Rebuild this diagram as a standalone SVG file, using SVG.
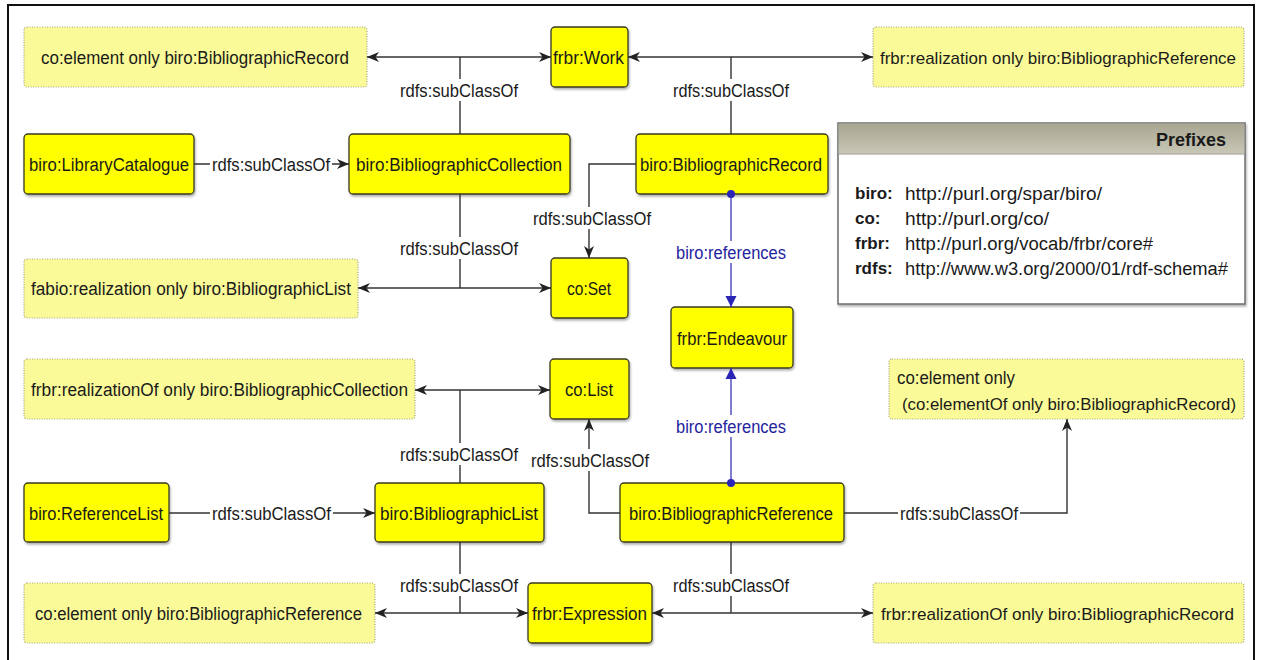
<svg xmlns="http://www.w3.org/2000/svg" width="1261" height="660" viewBox="0 0 1261 660">
<defs>
<style>
text{font-family:"Liberation Sans",Arial,sans-serif;font-size:18px;fill:#1a1a1a;}
.n rect{fill:#ffff00;stroke:#3a3a20;stroke-width:1.3;filter:url(#sh);}
.d rect{fill:#fafa98;stroke:#a4a47c;stroke-width:1.2;stroke-dasharray:1 1.5;}
.e{fill:none;stroke:#333;stroke-width:1.4;}
.bl{fill:none;stroke:#2b25b5;stroke-width:1.2;}
.lb{fill:#fff;stroke:none;}
.bt{fill:#2424a0;}
.pk{font-weight:bold;font-size:17px;}
.sm{font-size:17px;}
</style>
<filter id="sh" x="-10%" y="-10%" width="130%" height="140%">
<feDropShadow dx="1" dy="2" stdDeviation="1.2" flood-color="#000" flood-opacity="0.3"/>
</filter>
<linearGradient id="hg" x1="0" y1="0" x2="0" y2="1">
<stop offset="0" stop-color="#a9a792"/>
<stop offset="1" stop-color="#c8c6b5"/>
</linearGradient>
<marker id="ar" viewBox="0 0 12 10" refX="12" refY="5" markerWidth="12" markerHeight="10" markerUnits="userSpaceOnUse" orient="auto-start-reverse">
<path d="M0,0 L12,5 L0,10 L3.5,5 z" fill="#222"/>
</marker>
<marker id="ab" viewBox="0 0 11 13" refX="11" refY="6.5" markerWidth="11" markerHeight="13" markerUnits="userSpaceOnUse" orient="auto">
<path d="M0,1 L11,6.5 L0,12 z" fill="#2b25b5"/>
</marker>
</defs>
<rect x="8" y="5" width="1246" height="680" fill="#fff" stroke="#111" stroke-width="2"/>

<g id="r-element-record" class="d"><rect x="24" y="27" width="343" height="60" rx="3"/>
<text x="41" y="64" textLength="308" lengthAdjust="spacingAndGlyphs">co:element only biro:BibliographicRecord</text></g>
<g id="n-work" class="n"><rect x="551" y="27" width="77" height="60" rx="4"/>
<text x="553" y="64" textLength="71" lengthAdjust="spacingAndGlyphs">frbr:Work</text></g>
<g id="r-realization-reference" class="d"><rect x="873" y="27" width="371" height="60" rx="3"/>
<text class="sm" x="880" y="64" textLength="356" lengthAdjust="spacingAndGlyphs">frbr:realization only biro:BibliographicReference</text></g>
<g id="n-librarycatalogue" class="n"><rect x="24" y="134" width="170" height="60" rx="4"/>
<text x="29" y="171" textLength="160" lengthAdjust="spacingAndGlyphs">biro:LibraryCatalogue</text></g>
<g id="n-bibcollection" class="n"><rect x="349" y="134" width="221" height="60" rx="4"/>
<text x="356" y="171" textLength="206" lengthAdjust="spacingAndGlyphs">biro:BibliographicCollection</text></g>
<g id="n-bibrecord" class="n"><rect x="636" y="134" width="192" height="60" rx="4"/>
<text x="640" y="171" textLength="182" lengthAdjust="spacingAndGlyphs">biro:BibliographicRecord</text></g>

<g id="prefixes">
<rect x="838" y="123" width="407" height="181" fill="#fff" stroke="#6e6e6e" stroke-width="1.5" filter="url(#sh)"/>
<rect x="838.75" y="123.75" width="405.5" height="30" fill="url(#hg)"/>
<line x1="838" y1="154" x2="1245" y2="154" stroke="#9a9888" stroke-width="1"/>
<text class="pk" x="1226" y="146" text-anchor="end" style="font-size:18px">Prefixes</text>
<text class="pk" x="855" y="199">biro:</text>
<text x="905" y="200" textLength="197" lengthAdjust="spacingAndGlyphs">http://purl.org/spar/biro/</text>
<text class="pk" x="855" y="224">co:</text>
<text x="905" y="225" textLength="144" lengthAdjust="spacingAndGlyphs">http://purl.org/co/</text>
<text class="pk" x="855" y="249">frbr:</text>
<text x="905" y="250" textLength="248" lengthAdjust="spacingAndGlyphs">http://purl.org/vocab/frbr/core#</text>
<text class="pk" x="855" y="274">rdfs:</text>
<text x="905" y="275" textLength="323" lengthAdjust="spacingAndGlyphs">http://www.w3.org/2000/01/rdf-schema#</text>
</g>

<g id="r-realization-list" class="d"><rect x="24" y="259" width="334" height="59" rx="3"/>
<text x="31" y="295" textLength="320" lengthAdjust="spacingAndGlyphs">fabio:realization only biro:BibliographicList</text></g>
<g id="n-set" class="n"><rect x="551" y="258" width="77" height="60" rx="4"/>
<text x="567" y="295" textLength="44" lengthAdjust="spacingAndGlyphs">co:Set</text></g>
<g id="n-endeavour" class="n"><rect x="671" y="307" width="122" height="61" rx="4"/>
<text x="677" y="345" textLength="110" lengthAdjust="spacingAndGlyphs">frbr:Endeavour</text></g>
<g id="r-realizationof-collection" class="d"><rect x="24" y="359" width="391" height="60" rx="3"/>
<text x="31" y="396" textLength="377" lengthAdjust="spacingAndGlyphs">frbr:realizationOf only biro:BibliographicCollection</text></g>
<g id="n-list" class="n"><rect x="550" y="359" width="79" height="60" rx="4"/>
<text x="565" y="396" textLength="48" lengthAdjust="spacingAndGlyphs">co:List</text></g>
<g id="r-element-elementof" class="d"><rect x="889" y="359" width="355" height="60" rx="3"/>
<text x="897" y="384" textLength="118" lengthAdjust="spacingAndGlyphs">co:element only</text>
<text class="sm" x="902" y="410" textLength="334" lengthAdjust="spacingAndGlyphs">(co:elementOf only biro:BibliographicRecord)</text></g>
<g id="n-referencelist" class="n"><rect x="24" y="483" width="145" height="59" rx="4"/>
<text x="29" y="520" textLength="134" lengthAdjust="spacingAndGlyphs">biro:ReferenceList</text></g>
<g id="n-biblist" class="n"><rect x="375" y="483" width="169" height="59" rx="4"/>
<text x="380" y="520" textLength="158" lengthAdjust="spacingAndGlyphs">biro:BibliographicList</text></g>
<g id="n-bibreference" class="n"><rect x="620" y="483" width="224" height="59" rx="4"/>
<text x="629" y="520" textLength="204" lengthAdjust="spacingAndGlyphs">biro:BibliographicReference</text></g>
<g id="r-element-reference" class="d"><rect x="24" y="583" width="351" height="60" rx="3"/>
<text x="35" y="620" textLength="327" lengthAdjust="spacingAndGlyphs">co:element only biro:BibliographicReference</text></g>
<g id="n-expression" class="n"><rect x="528" y="583" width="124" height="60" rx="4"/>
<text x="532" y="620" textLength="115" lengthAdjust="spacingAndGlyphs">frbr:Expression</text></g>
<g id="r-realizationof-record" class="d"><rect x="873" y="583" width="371" height="60" rx="3"/>
<text class="sm" x="881" y="620" textLength="353" lengthAdjust="spacingAndGlyphs">frbr:realizationOf only biro:BibliographicRecord</text></g>

<g id="connectors">
<g id="c-work-left">
<path class="e" d="M367,57 H551" marker-start="url(#ar)" marker-end="url(#ar)"/>
<path class="e" d="M460,57 V134"/>
<rect class="lb" x="398" y="79" width="122" height="22"/>
<text x="400" y="97" textLength="118" lengthAdjust="spacingAndGlyphs">rdfs:subClassOf</text>
</g>
<g id="c-work-right">
<path class="e" d="M628,57 H873" marker-start="url(#ar)" marker-end="url(#ar)"/>
<path class="e" d="M731,57 V134"/>
<rect class="lb" x="671" y="79" width="120" height="22"/>
<text x="673" y="97" textLength="116" lengthAdjust="spacingAndGlyphs">rdfs:subClassOf</text>
</g>
<g id="c-libcat">
<path class="e" d="M194,164 H349" marker-end="url(#ar)"/>
<rect class="lb" x="210" y="153" width="122" height="22"/>
<text x="212" y="171" textLength="118" lengthAdjust="spacingAndGlyphs">rdfs:subClassOf</text>
</g>
<g id="c-set-left">
<path class="e" d="M358,288 H551" marker-start="url(#ar)" marker-end="url(#ar)"/>
<path class="e" d="M460,194 V288"/>
<rect class="lb" x="398" y="237" width="122" height="22"/>
<text x="400" y="255" textLength="118" lengthAdjust="spacingAndGlyphs">rdfs:subClassOf</text>
</g>
<g id="c-record-set">
<path class="e" d="M636,164 H589 V258" marker-end="url(#ar)"/>
<rect class="lb" x="531" y="207" width="122" height="22"/>
<text x="533" y="225" textLength="118" lengthAdjust="spacingAndGlyphs">rdfs:subClassOf</text>
</g>
<g id="c-record-endeavour">
<path class="bl" d="M731,194 V307" marker-end="url(#ab)"/>
<circle cx="731" cy="194" r="4" fill="#2b25b5"/>
<rect class="lb" x="674" y="241" width="114" height="22"/>
<text class="bt" x="676" y="259" textLength="110" lengthAdjust="spacingAndGlyphs">biro:references</text>
</g>
<g id="c-list-left">
<path class="e" d="M415,390 H550" marker-start="url(#ar)" marker-end="url(#ar)"/>
<path class="e" d="M460,390 V483"/>
<rect class="lb" x="398" y="443" width="122" height="22"/>
<text x="400" y="461" textLength="118" lengthAdjust="spacingAndGlyphs">rdfs:subClassOf</text>
</g>
<g id="c-reference-list">
<path class="e" d="M620,513 H589 V419" marker-end="url(#ar)"/>
<rect class="lb" x="529" y="449" width="122" height="22"/>
<text x="531" y="467" textLength="118" lengthAdjust="spacingAndGlyphs">rdfs:subClassOf</text>
</g>
<g id="c-reference-endeavour">
<path class="bl" d="M731,483 V368" marker-end="url(#ab)"/>
<circle cx="731" cy="483" r="4" fill="#2b25b5"/>
<rect class="lb" x="674" y="415" width="114" height="22"/>
<text class="bt" x="676" y="433" textLength="110" lengthAdjust="spacingAndGlyphs">biro:references</text>
</g>
<g id="c-reflist">
<path class="e" d="M169,513 H375" marker-end="url(#ar)"/>
<rect class="lb" x="210" y="502" width="123" height="22"/>
<text x="212" y="520" textLength="119" lengthAdjust="spacingAndGlyphs">rdfs:subClassOf</text>
</g>
<g id="c-reference-element">
<path class="e" d="M844,513 H1067 V419" marker-end="url(#ar)"/>
<rect class="lb" x="898" y="502" width="122" height="22"/>
<text x="900" y="520" textLength="118" lengthAdjust="spacingAndGlyphs">rdfs:subClassOf</text>
</g>
<g id="c-expression-left">
<path class="e" d="M375,613 H528" marker-start="url(#ar)" marker-end="url(#ar)"/>
<path class="e" d="M460,542 V613"/>
<rect class="lb" x="398" y="574" width="122" height="22"/>
<text x="400" y="592" textLength="118" lengthAdjust="spacingAndGlyphs">rdfs:subClassOf</text>
</g>
<g id="c-expression-right">
<path class="e" d="M652,613 H873" marker-start="url(#ar)" marker-end="url(#ar)"/>
<path class="e" d="M731,542 V613"/>
<rect class="lb" x="671" y="574" width="120" height="22"/>
<text x="673" y="592" textLength="116" lengthAdjust="spacingAndGlyphs">rdfs:subClassOf</text>
</g>
</g>
</svg>
